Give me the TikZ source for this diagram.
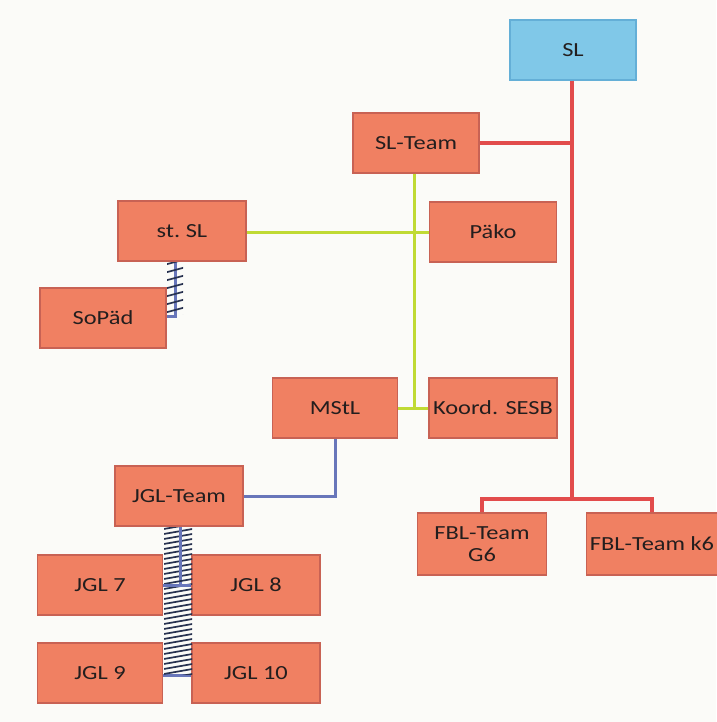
\documentclass[tikz,border=0pt]{standalone}
\usepackage{fontspec}
\setmainfont{Carlito}[FakeStretch=1.22]
\definecolor{boxfill}{RGB}{240,128,98}
\definecolor{boxedge}{RGB}{200,98,84}
\definecolor{slfill}{RGB}{128,200,232}
\definecolor{sledge}{RGB}{100,175,215}
\definecolor{redl}{RGB}{226,76,76}
\definecolor{greenl}{RGB}{192,218,52}
\definecolor{bluel}{RGB}{104,118,186}
\definecolor{navy}{RGB}{40,50,80}
\definecolor{bg}{RGB}{251,251,248}
\definecolor{txt}{RGB}{35,30,30}
\tikzset{
  obox/.style={draw=boxedge, fill=boxfill, line width=1.5pt, minimum width=126pt, minimum height=60pt,
    inner sep=2pt, align=center, text=txt, font=\fontsize{20}{21}\selectfont},
  sbox/.style={obox, draw=sledge, fill=slfill},
  redline/.style={draw=redl, line width=4pt},
  greenline/.style={draw=greenl, line width=3pt},
  blueline/.style={draw=bluel, line width=3pt},
  hatchline/.style={draw=navy, line width=1.7pt}
}
\begin{document}
\begin{tikzpicture}[x=1pt,y=-1pt]
\useasboundingbox (0,0) rectangle (716,722);
\fill[bg] (0,0) rectangle (716,722);

\node[sbox] (sl) at (573,50) {SL};
\node[obox] (slteam) at (416,143) {SL-Team};
\node[obox, minimum width=128pt] (stsl) at (182,231) {st.\ SL};
\node[obox, minimum width=127pt] (paeko) at (493,232) {Päko};
\node[obox] (sopaed) at (103,318) {SoPäd};
\node[obox, minimum width=125pt] (mstl) at (335,408) {MStL};
\node[obox, minimum width=128pt] (koord) at (493,408) {Koord. SESB};
\node[obox, minimum width=128pt] (jglteam) at (179,496) {JGL-Team};
\node[obox, minimum width=129pt, minimum height=62pt] (fblg) at (482,544) {FBL-Team\\[1pt]G6};
\node[obox, minimum width=131pt, minimum height=62pt] (fblk) at (652,544) {FBL-Team k6};
\node[obox, minimum width=125pt] (jgl7) at (100,585) {JGL 7};
\node[obox, minimum width=128pt] (jgl8) at (256,585) {JGL 8};
\node[obox, minimum width=125pt] (jgl9) at (100,673) {JGL 9};
\node[obox, minimum width=128pt] (jgl10) at (256,673) {JGL 10};

% red connectors
\coordinate (rj) at (572,499);
\coordinate (rt) at (572,143);
\draw[redline] (sl.south -| rj) -- (rj);
\draw[redline] (slteam.east) -- (rt);
\draw[redline] (fblg.north) |- (rj) -| (fblk.north);

% green connectors
\coordinate (gj) at (414,408);
\draw[greenline] (slteam.south -| gj) -- (gj);
\draw[greenline] (stsl.east |- paeko.west) -- (paeko.west);
\draw[greenline] (mstl.east) -- (koord.west);

% blue connectors
\draw[blueline] (mstl.south) |- (jglteam.east);
\coordinate (sj) at (175,316);
\draw[blueline] (sj |- stsl.south) -- (sj) -- (sopaed.east |- sj);
\coordinate (j1) at (180,585);
\draw[blueline] (jglteam.south -| j1) -- (j1);
\draw[blueline] (jgl7.east) -- (jgl8.west);
\draw[blueline] (jgl9.east |- 0,675) -- (jgl10.west |- 0,675);

% hatching st. SL -> SoPaed
\begin{scope}
\clip (167,262) rectangle (183,314);
\foreach \y in {258,266,...,330} \draw[hatchline] (160,\y) -- (190,\y-8);
\end{scope}
% hatching JGL column
\fill[bg] (165,592) rectangle (191,673);
\begin{scope}
\clip (164,527) rectangle (192,674);
\foreach \y in {520,525,...,700} \draw[hatchline] (158,\y) -- (198,\y-7);
\end{scope}
\draw[blueline] (jglteam.south -| j1) -- ++(0,50);
\draw[blueline] (jgl7.east) -- (jgl8.west);
\end{tikzpicture}
\end{document}
